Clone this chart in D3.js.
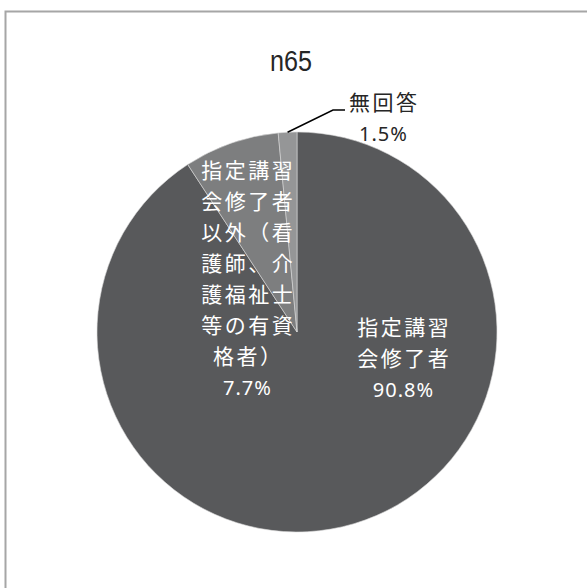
<!DOCTYPE html>
<html>
<head>
<meta charset="utf-8">
<script src="https://cdn.jsdelivr.net/npm/d3@7"></script>
<style>
  html, body { margin: 0; padding: 0; background: #fff; }
  svg { display: block; }
</style>
</head>
<body>
<svg id="chart" width="587" height="588"></svg>
<script>
// Respondent qualifications (n=65)
const categories = [
  "指定講習会修了者",
  "指定講習会修了者以外（看護師、介護福祉士等の有資格者）",
  "無回答"
];
const values = [90.8, 7.7, 1.5];
const labelLines = [
  ["指定講習", "会修了者"],
  ["指定講習", "会修了者", "以外（看", "護師、介", "護福祉士", "等の有資", "格者）"],
  ["無回答"]
];
const title = "n65";
const colors = ["#58595b", "#7d7e7f", "#959697"];

const svg = d3.select("#chart");
const W = 587, H = 588;

// outer chart frame (extends past the right and bottom edges)
svg.append("rect")
  .attr("x", 5.5).attr("y", 11.5)
  .attr("width", W + 20).attr("height", H + 20)
  .attr("fill", "#fff")
  .attr("stroke", "#a6a6a6").attr("stroke-width", 2);

// condensed title
svg.append("text")
  .attr("transform", "translate(291,71) scale(0.84,1)")
  .attr("text-anchor", "middle")
  .attr("font-family", "'Liberation Sans Narrow', 'Liberation Sans', sans-serif")
  .attr("font-size", 30)
  .attr("fill", "#262626")
  .text(title);

const cx = 297, cy = 332, r = 200;
const g = svg.append("g").attr("transform", `translate(${cx},${cy})`);

const pie = d3.pie().sort(null).value(d => d)(values);
const arc = d3.arc().innerRadius(0).outerRadius(r);

g.selectAll("path.slice")
  .data(pie)
  .join("path")
  .attr("class", "slice")
  .attr("d", arc)
  .attr("fill", (d, i) => colors[i])
  .attr("stroke", "#d9d9d9")
  .attr("stroke-width", 0.6);

const jp = "'Noto Sans CJK JP', 'Noto Sans', sans-serif";
const latin = "'Noto Sans', 'Open Sans', sans-serif";
const fs = 21, lh = 31, ls = 2.5;
const pct = v => v.toFixed(1) + "%";

// label block for a slice: lines of text followed by the percentage
function labelBlock(x, yTop, lines, value, color) {
  const t = g.append("text")
    .attr("text-anchor", "middle")
    .attr("font-size", fs)
    .attr("fill", color);
  lines.forEach((s, k) => {
    t.append("tspan")
      .attr("x", x + ls / 2)
      .attr("y", yTop + k * lh)
      .attr("font-family", jp)
      .attr("letter-spacing", ls)
      .text(s);
  });
  t.append("tspan")
    .attr("x", x + 0.5)
    .attr("y", yTop + lines.length * lh)
    .attr("font-family", latin)
    .attr("font-size", 20)
    .attr("letter-spacing", 1)
    .text(pct(value));
}

// main slice label (inside)
labelBlock(106, 3, labelLines[0], values[0], "#ffffff");
// second slice label (inside, near the top-left)
labelBlock(-50, -154, labelLines[1], values[1], "#ffffff");
// no-answer label (outside) with leader line
labelBlock(86, -222, labelLines[2], values[2], "#262626");

const small = pie[2];
const mid = (small.startAngle + small.endAngle) / 2;
const p0 = [Math.sin(mid) * r, -Math.cos(mid) * r];
g.append("polyline")
  .attr("points", [p0, [36, -222], [48, -222]].map(p => p.join(",")).join(" "))
  .attr("fill", "none")
  .attr("stroke", "#000")
  .attr("stroke-width", 1.5);
</script>
</body>
</html>
